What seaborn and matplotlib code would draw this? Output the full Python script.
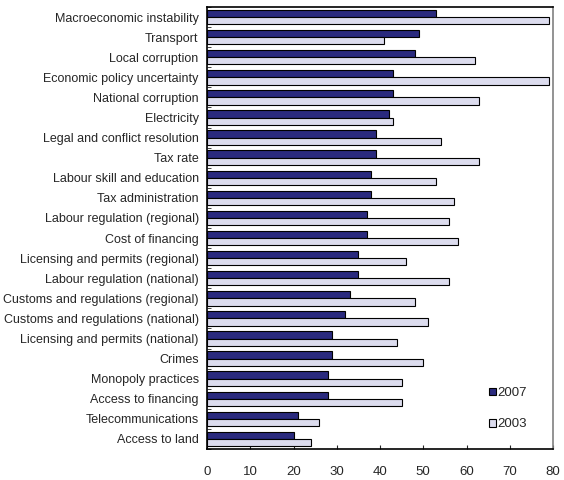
import matplotlib
matplotlib.use("Agg")
import matplotlib.pyplot as plt
import seaborn as sns
import pandas as pd
import numpy as np

categories = [
    "Macroeconomic instability", "Transport", "Local corruption",
    "Economic policy uncertainty", "National corruption", "Electricity",
    "Legal and conflict resolution", "Tax rate", "Labour skill and education",
    "Tax administration", "Labour regulation (regional)", "Cost of financing",
    "Licensing and permits (regional)", "Labour regulation (national)",
    "Customs and regulations (regional)", "Customs and regulations (national)",
    "Licensing and permits (national)", "Crimes", "Monopoly practices",
    "Access to financing", "Telecommunications", "Access to land",
]
values_2007 = [53, 49, 48, 43, 43, 42, 39, 39, 38, 38, 37, 37, 35, 35, 33, 32, 29, 29, 28, 28, 21, 20]
values_2003 = [79, 41, 62, 79, 63, 43, 54, 63, 53, 57, 56, 58, 46, 56, 48, 51, 44, 50, 45, 45, 26, 24]
series = ["2007", "2003"]
xticks = [0, 10, 20, 30, 40, 50, 60, 70, 80]

df = pd.DataFrame({
    "category": categories * 2,
    "value": values_2007 + values_2003,
    "year": [series[0]] * len(categories) + [series[1]] * len(categories),
})

sns.set_style("white")
plt.rcParams["font.family"] = ["Liberation Sans", "DejaVu Sans"]

fig = plt.figure(figsize=(5.64, 4.80), dpi=100)
ax = fig.add_axes([207/564, 1-449/480, (553-207)/564, (449-7)/480])

palette = {"2007": "#2a2a7e", "2003": "#dcdcee"}
sns.barplot(data=df, y="category", x="value", hue="year", order=categories,
            hue_order=series, palette=palette, orient="h", width=0.72,
            edgecolor="black", linewidth=0.8, ax=ax, saturation=1)

ax.set_xlim(0, 80)
ax.set_ylim(len(categories) - 0.5, -0.5)
ax.set_xticks(xticks)
ax.set_xticklabels([str(t) for t in xticks], fontsize=9.5)
ax.set_xlabel("")
ax.set_ylabel("")
ax.tick_params(axis="y", length=0, labelsize=9, pad=6)
ax.tick_params(axis="x", direction="in", length=3, pad=12, bottom=True)
ax.set_yticks(np.arange(-0.5, len(categories), 1), minor=True)
ax.tick_params(axis="y", which="minor", direction="in", length=3, left=True)

for side in ["left", "bottom", "top"]:
    ax.spines[side].set_color("black")
    ax.spines[side].set_linewidth(1.2)
ax.spines["right"].set_color("#808080")
ax.spines["right"].set_linewidth(1.2)

leg = ax.legend(loc="lower right", bbox_to_anchor=(0.96, 0.015), frameon=False,
                fontsize=9.5, handlelength=0.5, handleheight=0.5,
                handletextpad=0.15, labelspacing=1.45)

fig.savefig("out.png", dpi=100)
